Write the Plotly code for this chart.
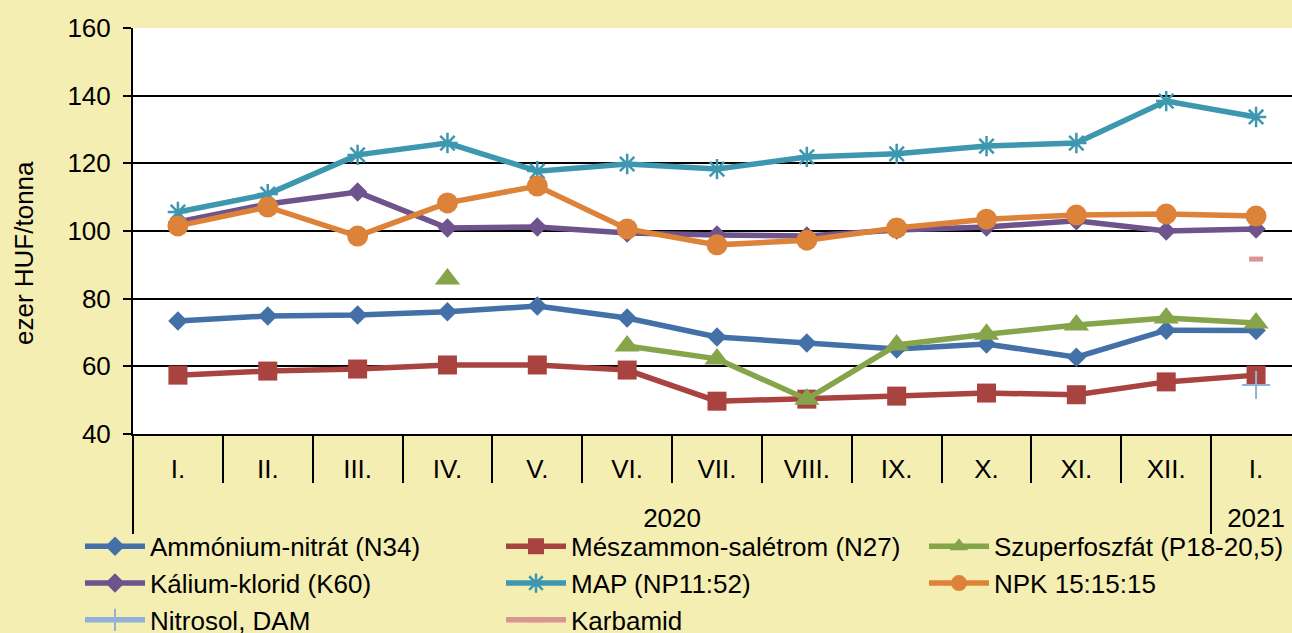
import plotly.graph_objects as go

months = ["I.", "II.", "III.", "IV.", "V.", "VI.", "VII.", "VIII.", "IX.", "X.", "XI.", "XII.", "I."]
years = ["2020"] * 12 + ["2021"]

ammonium_nitrat = [73.4, 74.9, 75.2, 76.1, 77.8, 74.3, 68.7, 66.9, 65.1, 66.6, 62.7, 70.7, 70.6]
meszammon = [57.4, 58.6, 59.2, 60.4, 60.4, 58.9, 49.7, 50.3, 51.2, 52.1, 51.6, 55.4, 57.4]
szuperfoszfat = [None, None, None, 85.8, None, 66.0, 62.2, 50.3, 66.3, 69.5, 72.2, 74.3, 72.8]
kalium_klorid = [102.7, 108.0, 111.5, 100.9, 101.2, 99.4, 98.8, 98.5, 100.3, 101.2, 103.0, 100.0, 100.6]
map_np = [105.6, 110.9, 122.5, 126.0, 117.7, 119.8, 118.3, 121.9, 122.8, 125.1, 126.0, 138.4, 133.7]
npk = [101.5, 107.1, 98.5, 108.3, 113.3, 100.6, 95.9, 97.3, 100.9, 103.5, 104.7, 105.0, 104.4]
nitrosol = [None] * 12 + [54.5]
karbamid = [None] * 12 + [91.7]

# month labels get a tiny empty second line so the year row sits lower, as in the reference
month_labels = [m + "<br><span style='font-size:1px'>\u00a0</span>" for m in months]

series = [
    ("Ammónium-nitrát (N34)", ammonium_nitrat, "#4470A8", dict(symbol="diamond", size=15), "legend"),
    ("Mészammon-salétrom (N27)", meszammon, "#A8433F", dict(symbol="square", size=19), "legend2"),
    ("Szuperfoszfát (P18-20,5)", szuperfoszfat, "#86A44A", dict(symbol="triangle-up", size=22), "legend3"),
    ("Kálium-klorid (K60)", kalium_klorid, "#6E538D", dict(symbol="diamond", size=15), "legend"),
    ("MAP (NP11:52)", map_np, "#3D97AF", dict(symbol="asterisk-open", size=17, line=dict(width=2.5, color="#3D97AF")), "legend2"),
    ("NPK 15:15:15", npk, "#DD8239", dict(symbol="circle", size=21), "legend3"),
    ("Nitrosol, DAM", nitrosol, "#93B0D6", dict(symbol="cross-thin-open", size=20, line=dict(width=2, color="#93B0D6")), "legend"),
    ("Karbamid", karbamid, "#D99593", dict(symbol="line-ew-open", size=10, line=dict(width=5, color="#D99593")), "legend2"),
]

fig = go.Figure()
for name, vals, color, mk, lg in series:
    mk = dict(mk)
    mk["color"] = color
    fig.add_trace(go.Scatter(
        x=[years, month_labels], y=vals, name=name, mode="lines+markers",
        line=dict(color=color, width=5.5), marker=mk, connectgaps=False, legend=lg,
    ))

font_family = "Liberation Sans, Arial, sans-serif"
legend_common = dict(
    orientation="v", xref="container", yref="container", xanchor="left",
    y=0.174, yanchor="top", itemwidth=60, bgcolor="rgba(0,0,0,0)",
    font=dict(size=26), tracegroupgap=0,
)
fig.update_layout(
    width=1292, height=633,
    paper_bgcolor="#F5EEB3", plot_bgcolor="#FFFFFF",
    margin=dict(l=133, r=0, t=28, b=199, autoexpand=False),
    font=dict(family=font_family, size=26, color="#000000"),
    showlegend=True,
    legend=dict(legend_common, x=80 / 1292),
    legend2=dict(legend_common, x=501 / 1292),
    legend3=dict(legend_common, x=924 / 1292),
)
fig.add_annotation(
    text="ezer HUF/tonna", textangle=-90, xref="paper", yref="paper",
    x=(24 - 133) / 1159, y=(434 - 253) / 406, xanchor="center", yanchor="middle",
    showarrow=False, font=dict(size=26, color="#000000"),
)
fig.update_yaxes(
    range=[40, 160], dtick=20, showgrid=True, gridcolor="#000000", gridwidth=2,
    showline=True, linecolor="#000000", linewidth=2, ticks="outside", ticklen=8,
    tickcolor="#000000", tickwidth=2, zeroline=False, tickfont=dict(size=26),
    ticklabelstandoff=7,
)
fig.update_xaxes(
    type="multicategory", range=[-0.5, 12.4], showline=True, linecolor="#000000", linewidth=2,
    ticks="outside", ticklen=47, tickcolor="#000000", tickwidth=2, showgrid=False,
    showdividers=True, dividercolor="#000000", dividerwidth=2, ticklabelstandoff=11,
)
fig.write_html("out.html", config={"displayModeBar": False},
               post_script="document.body.style.margin='0';")
